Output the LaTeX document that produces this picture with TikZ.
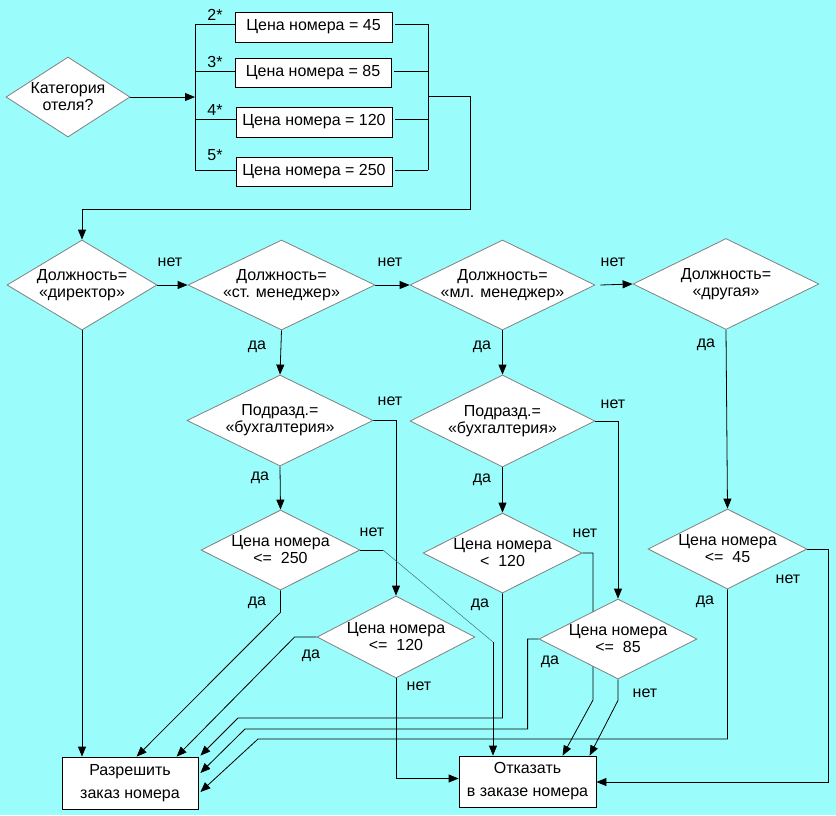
\documentclass[tikz,border=0pt]{standalone}
\usepackage{fontspec}
\setmainfont{Liberation Sans}
\usetikzlibrary{shapes.geometric,arrows.meta,calc}
\definecolor{bgc}{RGB}{155,252,252}
\definecolor{faintc}{RGB}{60,115,125}
\pgfdeclarelayer{back}
\pgfdeclarelayer{edges}
\pgfsetlayers{back,edges,main}
\tikzset{
  dmd/.style={diamond, draw=gray, line width=0.8pt, fill=white, aspect=2, inner sep=-4pt, align=center, font=\fontsize{16}{17}\selectfont},
  box/.style={rectangle, draw=black, line width=0.8pt, fill=white, inner sep=0pt, align=center, font=\fontsize{16}{23}\selectfont},
  lbl/.style={inner sep=0pt, font=\fontsize{16}{17}\selectfont},
  conn/.style={draw=black, line width=0.8pt},
  arr/.style={conn, -{Triangle[length=10pt,width=8pt]}},
  faintline/.style={draw=faintc, line width=0.5pt},
}
\begin{document}
\begin{tikzpicture}[x=1pt,y=-1pt]
\begin{pgfonlayer}{back}
\fill[bgc] (0,0) rectangle (836,815);
\end{pgfonlayer}

% top part
\node[dmd, minimum width=124pt, minimum height=80pt] (cat) at (68,97) {Категория\\отеля?};
\node[box, minimum width=157pt, minimum height=30pt] (p1) at (313.5,27) {Цена номера = 45};
\node[box, minimum width=156pt, minimum height=29pt] (p2) at (313,72.5) {Цена номера = 85};
\node[box, minimum width=156pt, minimum height=30pt] (p3) at (314,122) {Цена номера = 120};
\node[box, minimum width=156pt, minimum height=29pt] (p4) at (314,171.5) {Цена номера = 250};
\node[lbl] (s2) at (215,15) {2*};
\node[lbl] (s3) at (215,62) {3*};
\node[lbl] (s4) at (215,110) {4*};
\node[lbl] (s5) at (215,155) {5*};

\coordinate (b1) at (195,24);
\coordinate (b2) at (195,71);
\coordinate (b3) at (195,119);
\coordinate (b4) at (195,170);
\coordinate (r1) at (428,24);
\coordinate (r2) at (428,71);
\coordinate (r3) at (428,119);
\coordinate (r4) at (428,170);
\coordinate (o1) at (428,96);
\coordinate (k1) at (470,209);

% decision diamonds
\node[dmd, minimum width=150pt, minimum height=90pt] (d1) at (82,285) {Должность=\\«директор»};
\node[dmd, minimum width=187pt, minimum height=90pt] (d2) at (281.5,285) {Должность=\\«ст. менеджер»};
\node[dmd, minimum width=185pt, minimum height=90pt] (d3) at (502.5,285) {Должность=\\«мл. менеджер»};
\node[dmd, minimum width=186pt, minimum height=91pt] (d4) at (726,284) {Должность=\\«другая»};
\node[dmd, minimum width=186pt, minimum height=91pt] (d5) at (280,420.5) {Подразд.=\\«бухгалтерия»};
\node[dmd, minimum width=185pt, minimum height=92pt] (d8) at (502.5,421) {Подразд.=\\«бухгалтерия»};
\node[dmd, minimum width=159pt, minimum height=80pt] (d6) at (280.5,550) {Цена номера\\<=\ \ 250};
\node[dmd, minimum width=159pt, minimum height=80pt] (d9) at (502.5,553) {Цена номера\\<\ \ 120};
\node[dmd, minimum width=158pt, minimum height=82pt] (d7) at (396,637) {Цена номера\\<=\ \ 120};
\node[dmd, minimum width=158pt, minimum height=80pt] (d10) at (618,639) {Цена номера\\<=\ \ 85};
\node[dmd, minimum width=159pt, minimum height=80pt] (d11) at (727.5,549) {Цена номера\\<=\ \ 45};

\node[box, minimum width=136pt, minimum height=52pt] (yes) at (130,783) {Разрешить\\заказ номера};
\node[box, minimum width=137pt, minimum height=51pt] (no) at (527.5,781.5) {Отказать\\в заказе номера};

% labels
\node[lbl] (n1) at (170,262) {нет};
\node[lbl] (n2) at (390,262) {нет};
\node[lbl] (n3) at (613,262) {нет};
\node[lbl] (a2) at (257,347) {да};
\node[lbl] (a3) at (482,347) {да};
\node[lbl] (a4) at (706,345) {да};
\node[lbl] (n5) at (390,401) {нет};
\node[lbl] (a5) at (260,478) {да};
\node[lbl] (n8) at (613,404) {нет};
\node[lbl] (a8) at (482,480) {да};
\node[lbl] (n6) at (372,532) {нет};
\node[lbl] (a6) at (257,603) {да};
\node[lbl] (n9) at (585,533) {нет};
\node[lbl] (a9) at (480,605) {да};
\node[lbl] (a7) at (311,656) {да};
\node[lbl] (n7) at (419,686) {нет};
\node[lbl] (a10) at (550,662) {да};
\node[lbl] (n10) at (645,693) {нет};
\node[lbl] (n11) at (788,579) {нет};
\node[lbl] (a11) at (705,602) {да};

\coordinate (h1) at (238,718);
\coordinate (h2) at (245,729);
\coordinate (h3) at (258,739);
\coordinate (f0) at (383,550);
\coordinate (f1) at (493,642);
\coordinate (g1) at (593,700);

\begin{pgfonlayer}{edges}
% top
\draw[arr] (cat.east) -- (cat.east -| b1);
\draw[conn] (b1) -- (b4);
\draw[conn] (b1) -- (b1 -| p1.west);
\draw[conn] (b2) -- (b2 -| p2.west);
\draw[conn] (b3) -- (b3 -| p3.west);
\draw[conn] (b4) -- (b4 -| p4.west);
\draw[conn] (r1) -- (r4);
\draw[conn] ($(p1.east |- r1)+(3,0)$) -- (r1);
\draw[conn] ($(p2.east |- r2)+(3,0)$) -- (r2);
\draw[conn] ($(p3.east |- r3)+(3,0)$) -- (r3);
\draw[conn] ($(p4.east |- r4)+(3,0)$) -- (r4);
\draw[arr] (o1) -| (k1) -| (d1.north);
% row of position checks
\draw[arr] (d1.east) -- (d2.west);
\draw[arr] (d2.east) -- (d3.west);
\draw[arr] ($(d3.east)+(5,0)$) -- (d4.west);
\draw[arr] (d2.south) -- (d5.north);
\draw[arr] (d5.south) -- (d6.north);
\draw[arr] (d3.south) -- (d8.north);
\draw[arr] (d8.south) -- (d9.north);
\draw[arr] (d4.south) -- (d11.north);
\draw[arr] (d1.south) -- (d1.south |- yes.north);
\draw[arr] (d5.east) -| (d7.north);
\draw[arr] (d8.east) -| (d10.north);
% to "yes"
\draw[arr] (d6.south) -- ++(0,22) -- ($(yes.north west)+(75,0)$);
\draw[arr] (d7.west) -- ++(-22,0) -- ($(yes.north west)+(115,0)$);
\draw[arr] (d9.south) |- (h1) -- ($(yes.north east)+(2,-1)$);
\draw[arr] (d10.west) -- ++(-11,0) |- (h2) -- ($(yes.east)+(2,-10)$);
\draw[arr] (d11.south) |- (h3) -- ($(yes.east)+(2,9)$);
% to "no"
\draw[conn] (d6.east) -- (f0);
\draw[faintline] (f0) -- (f1);
\draw[arr] (f1) -- (f1 |- no.north);
\draw[arr] (d9.east) -| (g1) -- ($(no.north west)+(104,0)$);
\draw[arr] (d10.south) -- ++(0,21) -- ($(no.north west)+(131,0)$);
\draw[arr] (d7.south) |- ($(no.west)+(0,-3)$);
\draw[arr] (d11.east) -- ++(21,0) |- ($(no.east)+(0,0.5)$);
\end{pgfonlayer}
\end{tikzpicture}
\end{document}
